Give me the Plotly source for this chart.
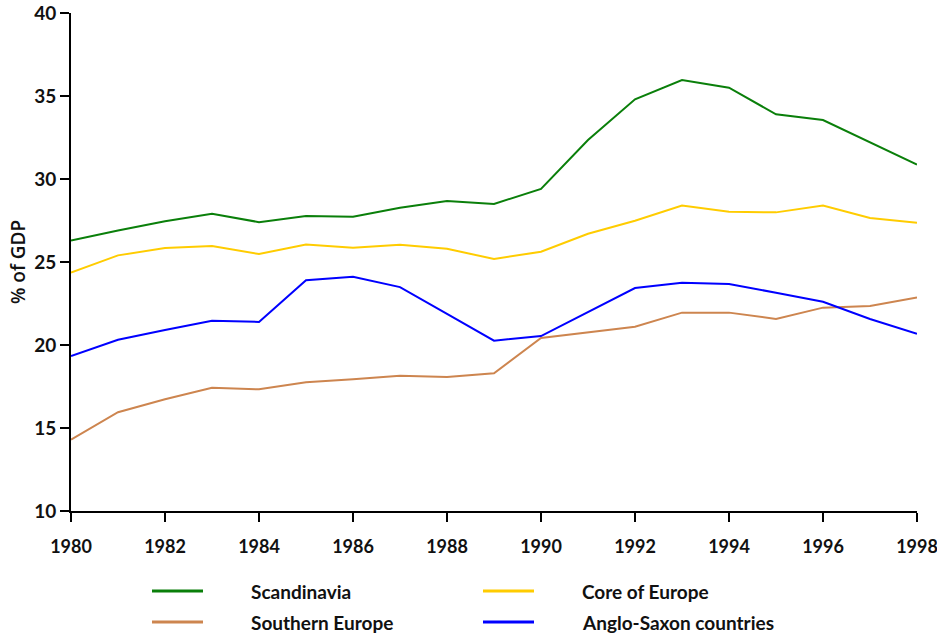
import plotly.graph_objects as go

years = list(range(1980, 1999))
scandinavia = [26.3, 26.9, 27.45, 27.9, 27.4, 27.77, 27.72, 28.27, 28.67, 28.5, 29.4,
               32.35, 34.8, 35.96, 35.5, 33.9, 33.55, 32.2, 30.87]
core_europe = [24.36, 25.4, 25.84, 25.96, 25.48, 26.05, 25.86, 26.04, 25.8, 25.18, 25.62,
               26.7, 27.49, 28.4, 28.03, 27.99, 28.4, 27.65, 27.37]
southern_europe = [14.3, 15.95, 16.73, 17.43, 17.33, 17.75, 17.93, 18.15, 18.07, 18.3, 20.42,
                   20.74, 21.1, 21.95, 21.95, 21.57, 22.25, 22.35, 22.87]
anglo_saxon = [19.34, 20.32, 20.9, 21.46, 21.39, 23.9, 24.11, 23.49, 21.87, 20.26, 20.54,
               22.0, 23.43, 23.75, 23.67, 23.15, 22.6, 21.57, 20.68]

series = [
    ("Scandinavia", scandinavia, "#0A7F0A"),
    ("Core of Europe", core_europe, "#FFCC00"),
    ("Southern Europe", southern_europe, "#CD854F"),
    ("Anglo-Saxon countries", anglo_saxon, "#0000FF"),
]

FONT = "Lato"
fig = go.Figure()
for name, vals, col in series:
    fig.add_trace(go.Scatter(x=years, y=vals, mode="lines", name=name,
                             line=dict(color=col, width=2), showlegend=False))

W, H = 937, 634
l, r, t, b = 71, 20, 13, 123
pw, ph = W - l - r, H - t - b
def px_x(x):
    return (x - l) / pw
def px_y(y):
    return (H - b - y) / ph

legend_pos = [(152, 591), (483, 591), (152, 622), (483, 622)]
shapes = []
annotations = []
for (name, vals, col), (lx, ly) in zip(series, legend_pos):
    shapes.append(dict(type="line", xref="paper", yref="paper",
                       x0=px_x(lx), x1=px_x(lx + 51), y0=px_y(ly), y1=px_y(ly),
                       line=dict(color=col, width=3)))
    annotations.append(dict(xref="paper", yref="paper", x=px_x(lx + 97), y=px_y(ly),
                            text=name, showarrow=False, xanchor="left", yanchor="middle",
                            font=dict(family=FONT, size=19, color="#111111", weight="bold")))

fig.update_layout(
    width=W, height=H,
    margin=dict(l=l, r=r, t=t, b=b, autoexpand=False),
    plot_bgcolor="white", paper_bgcolor="white",
    font=dict(family=FONT, size=16, color="#111111"),
    shapes=shapes, annotations=annotations,
    xaxis=dict(range=[1980, 1998], tickmode="linear", tick0=1980, dtick=2, automargin=False,
               showgrid=False, zeroline=False, showline=True, linecolor="black", linewidth=2,
               ticks="outside", ticklen=9, tickwidth=2, tickcolor="black",
               tickfont=dict(family=FONT, size=18, color="#111111", weight="bold"),
               ticklabelstandoff=9, ticklabeloverflow="allow"),
    yaxis=dict(range=[10, 40], tickmode="linear", tick0=10, dtick=5, automargin=False,
               showgrid=False, zeroline=False, showline=True, linecolor="black", linewidth=2,
               ticks="outside", ticklen=9, tickwidth=2, tickcolor="black",
               tickfont=dict(family=FONT, size=19, color="#111111", weight="bold"),
               ticklabeloverflow="allow",
               title=dict(text="% of GDP",
                          font=dict(family="Open Sans", size=19, color="#111111", weight=600),
                          standoff=4)),
)

fig.write_html("out.html", config={"displayModeBar": False},
               post_script="document.body.style.margin='0';document.body.style.padding='0';")
